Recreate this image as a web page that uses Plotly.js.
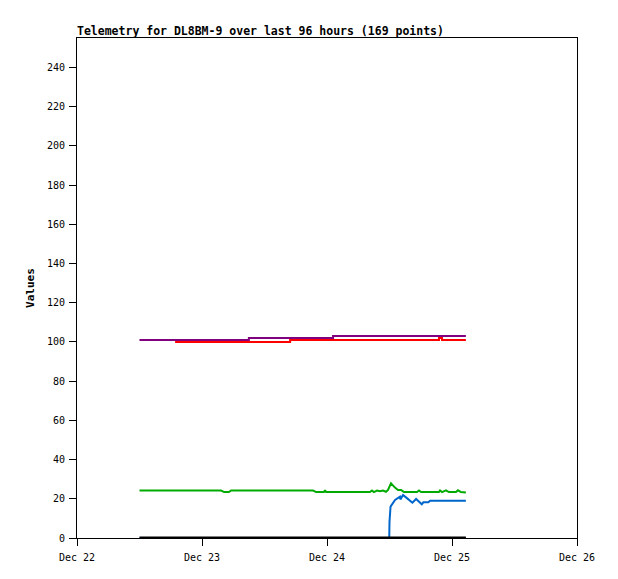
<!DOCTYPE html>
<html>
<head>
<meta charset="utf-8">
<script src="https://cdn.plot.ly/plotly-3.0.1.min.js"></script>
<style>html,body{margin:0;padding:0;background:#fff;}#chart{width:618px;height:579px;}</style>
</head>
<body>
<div id="chart"></div>
<script>
// Purple series (step)
const purpleTimes = ["2023-12-22 12:00","2023-12-23 09:00","2023-12-24 01:10","2023-12-25 02:40"];
const purpleValues = [101, 102, 103, 103];

// Red series (step)
const redTimes = ["2023-12-22 18:50","2023-12-23 16:55","2023-12-24 21:30","2023-12-24 22:05","2023-12-25 02:40"];
const redValues = [100, 101, 102, 101, 101];

// Green series
const greenTimes = ["2023-12-22 12:00","2023-12-23 03:40","2023-12-23 04:15","2023-12-23 05:10","2023-12-23 05:35",
  "2023-12-23 21:20","2023-12-23 21:55","2023-12-23 23:25","2023-12-23 23:37","2023-12-23 23:50",
  "2023-12-24 08:15","2023-12-24 08:38","2023-12-24 09:00","2023-12-24 09:36","2023-12-24 10:10",
  "2023-12-24 10:45","2023-12-24 11:20","2023-12-24 11:43","2023-12-24 12:17","2023-12-24 12:40",
  "2023-12-24 13:03","2023-12-24 13:38","2023-12-24 14:13","2023-12-24 14:47","2023-12-24 17:17",
  "2023-12-24 17:40","2023-12-24 18:03","2023-12-24 21:30","2023-12-24 21:42","2023-12-24 22:05",
  "2023-12-24 22:51","2023-12-24 23:25","2023-12-25 00:46","2023-12-25 01:09","2023-12-25 01:43",
  "2023-12-25 02:40"];
const greenValues = [24.2, 24.2, 23.4, 23.4, 24.2,
  24.2, 23.4, 23.4, 24.4, 23.4,
  23.4, 24.2, 23.4, 24.2, 23.8,
  24.2, 23.6, 24.5, 27.9, 26.5,
  25.7, 24.5, 24.5, 23.4, 23.4,
  24.2, 23.4, 23.4, 24.2, 23.4,
  24.3, 23.4, 23.4, 24.3, 23.4,
  23.2];

// Blue series
const blueTimes = ["2023-12-22 12:00","2023-12-24 11:57","2023-12-24 12:00","2023-12-24 12:12","2023-12-24 13:04",
  "2023-12-24 14:00","2023-12-24 14:06","2023-12-24 14:36","2023-12-24 15:24","2023-12-24 16:24",
  "2023-12-24 17:06","2023-12-24 18:12","2023-12-24 18:30","2023-12-24 19:27","2023-12-24 19:48",
  "2023-12-25 02:40"];
const blueValues = [0, 0, 8.3, 16, 19.4,
  21.1, 19.7, 21.9, 20.2, 18,
  19.9, 17.2, 18.2, 18.2, 19,
  19];

// Black series
const blackTimes = ["2023-12-22 12:00","2023-12-25 02:40"];
const blackValues = [0, 0];

const xTickVals = ["2023-12-22","2023-12-23","2023-12-24","2023-12-25","2023-12-26"];
const xTickText = ["Dec 22","Dec 23","Dec 24","Dec 25","Dec 26"];
const yTickVals = [0,20,40,60,80,100,120,140,160,180,200,220,240];

const mono = "DejaVu Sans Mono, monospace";

const traces = [
  {x: blueTimes, y: blueValues, mode: "lines", line: {color: "#0066cc", width: 2}},
  {x: greenTimes, y: greenValues, mode: "lines", line: {color: "#00aa00", width: 2}},
  {x: redTimes, y: redValues, mode: "lines", line: {color: "#ff0000", width: 2, shape: "hv"}},
  {x: purpleTimes, y: purpleValues, mode: "lines", line: {color: "#800080", width: 2, shape: "hv"}},
  {x: blackTimes, y: blackValues, mode: "lines", line: {color: "#000000", width: 3}}
];

const layout = {
  width: 618, height: 579,
  margin: {l: 77, r: 41, t: 38, b: 41},
  paper_bgcolor: "#ffffff", plot_bgcolor: "#ffffff",
  showlegend: false,
  font: {family: mono, size: 10, color: "#000"},
  title: {text: "<b>Telemetry for DL8BM-9 over last 96 hours (169 points)</b>",
    font: {family: mono, size: 11.5, color: "#000"},
    x: 0, xref: "paper", xanchor: "left", y: 1 - 31/579, yanchor: "middle"},
  xaxis: {
    type: "date", range: ["2023-12-22", "2023-12-26"],
    tickmode: "array", tickvals: xTickVals, ticktext: xTickText,
    ticks: "outside", ticklen: 7, tickcolor: "#000", tickwidth: 1,
    showline: true, linecolor: "#000", linewidth: 1, mirror: true,
    showgrid: false, zeroline: false, ticklabelstandoff: 3,
    tickfont: {family: mono, size: 10, color: "#000"}
  },
  yaxis: {
    range: [0, 255], tickmode: "array", tickvals: yTickVals,
    ticks: "outside", ticklen: 7, tickcolor: "#000", tickwidth: 1,
    showline: true, linecolor: "#000", linewidth: 1, mirror: true,
    showgrid: false, zeroline: false, ticklabelstandoff: 2,
    tickfont: {family: mono, size: 10, color: "#000"},
    title: {text: "<b>Values</b>", font: {family: mono, size: 11, color: "#000"}, standoff: 10}
  }
};

Plotly.newPlot("chart", traces, layout, {staticPlot: true, displayModeBar: false});
</script>
</body>
</html>
